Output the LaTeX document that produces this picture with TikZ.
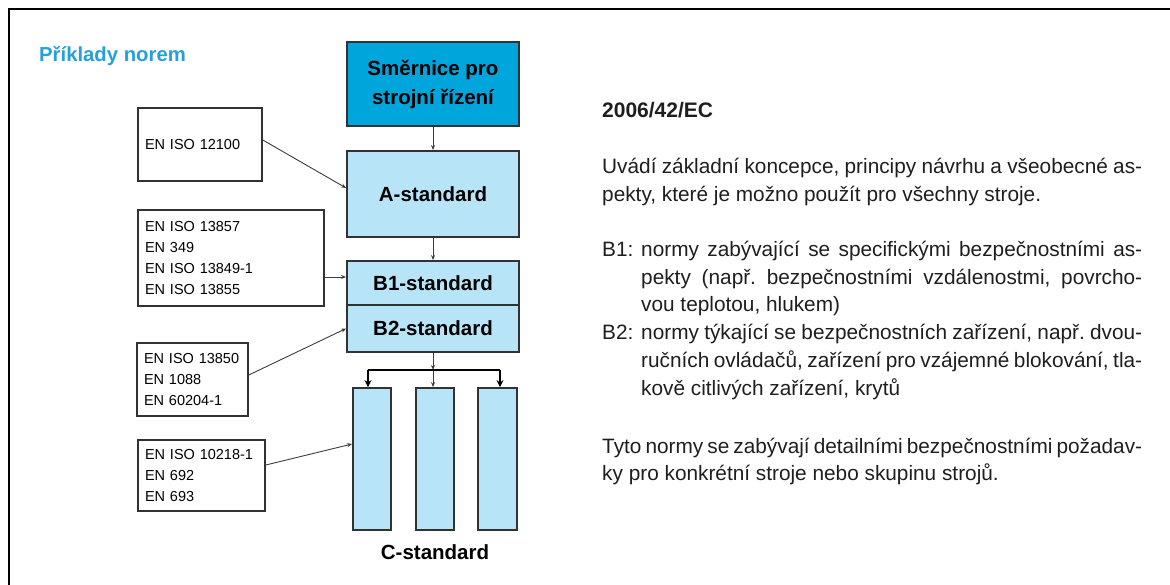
\documentclass[tikz,border=0pt]{standalone}
\usepackage{fontspec}
\setmainfont{Liberation Sans}
\usetikzlibrary{arrows.meta,calc}

\definecolor{dirblue}{RGB}{0,166,219}
\definecolor{stdblue}{RGB}{184,228,248}
\definecolor{titleblue}{RGB}{38,160,221}
\definecolor{boxline}{RGB}{50,50,50}
\definecolor{linkgray}{RGB}{60,60,60}
\definecolor{bodytext}{RGB}{30,30,30}

\tikzset{
  frameline/.style={line width=2.5pt,black},
  headbox/.style={rectangle,draw=boxline,line width=1.8pt,fill=dirblue,
    minimum width=172pt,inner sep=0pt,align=center,
    font=\bfseries\fontsize{20.5}{29}\selectfont},
  stdbox/.style={rectangle,draw=boxline,line width=1.8pt,fill=stdblue,
    minimum width=172pt,inner sep=0pt,align=center,
    font=\bfseries\fontsize{20.5}{25}\selectfont},
  colbox/.style={rectangle,draw=boxline,line width=1.8pt,fill=stdblue,
    minimum height=142pt,inner sep=0pt},
  listbox/.style={rectangle,draw=boxline,line width=1.6pt,fill=white,
    inner xsep=7pt,inner ysep=0pt,align=left,
    font=\fontsize{14.5}{20.7}\selectfont},
  link/.style={draw=linkgray,line width=0.9pt,-{Stealth[length=5pt,width=4pt]}},
  fork/.style={draw=black,line width=2.4pt},
  forkarrow/.style={draw=black,line width=2.4pt,-{Stealth[length=7pt,width=7pt]}},
  paraline/.style={anchor=base west,inner sep=0pt,text=bodytext,
    font=\fontsize{20.8}{25}\selectfont\frenchspacing},
  caption/.style={inner sep=0pt,font=\bfseries\fontsize{20.5}{25}\selectfont},
}

\begin{document}
\begin{tikzpicture}[x=1pt,y=-1pt]
\useasboundingbox (0,0) rectangle (1170,585);

% page frame (top and left edges)
\coordinate (fTL) at (9,9);
\coordinate (fBL) at (9,600);
\coordinate (fTR) at (1180,9);
\draw[frameline] (fBL) -- (fTL) -- (fTR);

% heading
\node[anchor=base west,inner sep=0pt,text=titleblue,
  font=\bfseries\fontsize{20.3}{24}\selectfont] (title) at (39,62) {Příklady norem};

% hierarchy of standards
\node[headbox,minimum height=84pt] (dir) at (433,84) {Směrnice pro\\strojní řízení};
\node[stdbox,minimum height=86pt] (A) at (433,194) {A-standard};
\node[stdbox,minimum height=44pt] (B1) at (433,283) {B1-standard};
\node[stdbox,minimum height=47pt] (B2) at (433,328.5) {B2-standard};

\node[colbox,minimum width=38pt] (c1) at (372,459) {};
\node[colbox,minimum width=38pt] (c2) at (435,459) {};
\node[colbox,minimum width=39pt] (c3) at (497.5,459) {};
\node[caption] (C) at (435,552) {C-standard};

% example lists
\node[listbox,text width=110pt,minimum height=73pt] (l1) at (200,144.5) {EN ISO 12100};
\node[listbox,text width=172pt,minimum height=96pt] (l2) at (231,258)
  {EN ISO 13857\\EN 349\\EN ISO 13849-1\\EN ISO 13855};
\node[listbox,text width=97pt,minimum height=73pt] (l3) at (192.5,379.5)
  {EN ISO 13850\\EN 1088\\EN 60204-1};
\node[listbox,text width=113pt,minimum height=71pt] (l4) at (201.5,475.5)
  {EN ISO 10218-1\\EN 692\\EN 693};

% vertical chain
\draw[link] (dir.south) -- (A.north);
\draw[link] (A.south) -- (B1.north);

% fork to the C columns
\coordinate (j) at (433,370);
\coordinate (forkL) at (368,370);
\coordinate (forkR) at (500,370);
\draw[link] (B2.south) -- (j);
\draw[link] (j) -- (j |- c2.north);
\draw[fork] (forkL) -- (forkR);
\draw[forkarrow] (forkL) -- (forkL |- c1.north);
\draw[forkarrow] (forkR) -- (forkR |- c3.north);

% list-to-standard links
\coordinate (b1in) at ([yshift=6pt]B1.west);
\draw[link] ([yshift=4.5pt]l1.east) -- ([yshift=6pt]A.west);
\draw[link] (b1in -| l2.east) -- (b1in);
\draw[link] ([yshift=4.5pt]l3.east) -- (B2.west);
\draw[link] ([yshift=10.5pt]l4.east) -- ([yshift=15pt]c1.west);

% explanatory text
\node[paraline,font=\bfseries\fontsize{21}{25}\selectfont] (p0) at (602,118) {2006/42/EC};
\node[paraline] (p1) at (602,174) {\makebox[540pt][s]{Uvádí základní koncepce, principy návrhu a všeobecné as-}};
\node[paraline] (p2) at (602,201.6) {pekty, které je možno použít pro všechny stroje.};
\node[paraline] (p3a) at (602,257) {B1:};
\node[paraline] (p3) at (641,257) {\makebox[501pt][s]{normy zabývající se specifickými bezpečnostními as-}};
\node[paraline] (p4) at (641,284.5) {\makebox[501pt][s]{pekty (např. bezpečnostními vzdálenostmi, povrcho-}};
\node[paraline] (p5) at (641,312) {vou teplotou, hlukem)};
\node[paraline] (p6a) at (602,340) {B2:};
\node[paraline] (p6) at (641,340) {\makebox[501pt][s]{normy týkající se bezpečnostních zařízení, např. dvou-}};
\node[paraline] (p7) at (641,367.5) {\makebox[501pt][s]{ručních ovládačů, zařízení pro vzájemné blokování, tla-}};
\node[paraline] (p8) at (641,395) {kově citlivých zařízení, krytů};
\node[paraline] (p9) at (602,453) {\makebox[540pt][s]{Tyto normy se zabývají detailními bezpečnostními požadav-}};
\node[paraline] (p10) at (602,480.5) {ky pro konkrétní stroje nebo skupinu strojů.};
\end{tikzpicture}
\end{document}
